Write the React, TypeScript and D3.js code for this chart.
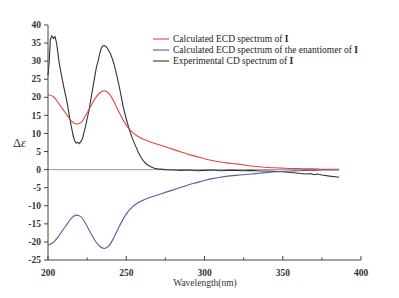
import React from "react";
import * as d3 from "d3";

const xTicks = [200, 250, 300, 350, 400];
const xMinorTicks = [225, 275, 325, 375];
const yTicks = [40, 35, 30, 25, 20, 15, 10, 5, 0, -5, -10, -15, -20, -25];

const legendLabels = [
  "Calculated ECD spectrum of ",
  "Calculated ECD spectrum of the enantiomer of ",
  "Experimental CD spectrum of ",
];

const calcWl = [200, 203, 206, 209, 212, 215, 218, 221, 224, 227, 230, 233, 236, 239, 242, 245, 248, 251, 254, 257, 260, 265, 270, 275, 280, 285, 290, 295, 300, 305, 310, 315, 320, 325, 330, 335, 340, 345, 350, 355, 360, 365, 370, 375, 380, 386];
const calcVals = [20.7, 20.3, 18.9, 17.0, 15.2, 13.4, 12.6, 13.0, 14.9, 17.3, 19.6, 21.2, 21.8, 21.0, 18.9, 16.2, 13.7, 11.7, 10.3, 9.3, 8.6, 7.7, 7.0, 6.3, 5.6, 4.9, 4.2, 3.6, 3.0, 2.5, 2.1, 1.8, 1.6, 1.3, 1.0, 0.8, 0.6, 0.5, 0.4, 0.3, 0.3, 0.2, 0.2, 0.1, 0.1, 0.1];
const enantVals = [-20.8, -20.3, -18.9, -17.0, -15.2, -13.4, -12.6, -13.0, -14.9, -17.3, -19.6, -21.2, -21.8, -21.0, -18.9, -16.2, -13.7, -11.7, -10.3, -9.3, -8.6, -7.7, -7.0, -6.3, -5.6, -4.9, -4.2, -3.6, -3.0, -2.5, -2.1, -1.8, -1.6, -1.4, -1.2, -1.0, -0.8, -0.6, -0.5, -0.4, -0.3, -0.2, -0.2, -0.1, -0.1, -0.1];

const expWl = [200, 200.8, 201.5, 202.5, 203.5, 204.5, 205.5, 207, 208, 210, 212, 214, 216, 217, 218, 219, 220, 221, 222, 224, 226, 228, 230, 231, 232, 233, 234, 235, 236, 237, 238, 240, 242, 244, 246, 248, 250, 252, 254, 256, 258, 260, 262, 264, 266, 268, 270, 275, 280, 285, 290, 295, 300, 305, 310, 315, 320, 325, 330, 335, 340, 345, 350, 355, 360, 365, 368, 370, 372, 375, 380, 386];
const expVals = [26, 30, 36, 37, 36.3, 36.8, 35, 30, 27.5, 23, 19, 14, 9.5, 8, 7.3, 7.6, 7.2, 7.8, 8.5, 12, 16, 21, 26, 28.5, 30, 32, 33.5, 34.2, 34.3, 34.1, 33.5, 32, 29.5, 26, 22, 17.5, 14, 11, 8.5, 6.5, 4.5, 3, 1.9, 1.2, 0.7, 0.4, 0.2, 0, -0.1, -0.2, -0.1, -0.3, -0.2, -0.1, -0.3, -0.2, -0.2, -0.3, -0.2, -0.4, -0.4, -0.5, -0.6, -0.8, -1.0, -1.2, -1.1, -1.4, -1.2, -1.5, -1.8, -2.1];

const RED = "#e8423f";
const BLUE = "#5b5aa6";
const BLACK = "#333333";
const AXIS = "#444444";
const FONT = "'Liberation Serif', 'Times New Roman', serif";

export default function App() {
  const W = 399, H = 298;
  const x = d3.scaleLinear().domain([200, 400]).range([48, 361]);
  const y = d3.scaleLinear().domain([-25, 40]).range([260, 25]);

  const smooth = d3.line<[number, number]>().x(d => x(d[0])).y(d => y(d[1])).curve(d3.curveMonotoneX);
  const jag = d3.line<[number, number]>().x(d => x(d[0])).y(d => y(d[1])).curve(d3.curveLinear);

  const redData = calcWl.map((w, i) => [w, calcVals[i]] as [number, number]);
  const blueData = calcWl.map((w, i) => [w, enantVals[i]] as [number, number]);
  const blackData = expWl.map((w, i) => [w, expVals[i]] as [number, number]);

  const legendColors = [RED, BLUE, BLACK];
  const legendY = [39, 50, 61];

  return (
    <svg width={W} height={H} style={{ position: "absolute", left: 0, top: 0, background: "#fff" }} fontFamily={FONT}>
      <rect x={0} y={0} width={W} height={H} fill="#fff" />
      <line x1={x(200)} x2={x(386)} y1={y(0)} y2={y(0)} stroke="#9a9a9a" strokeWidth={1} />
      <path d={jag(blackData) || ""} fill="none" stroke={BLACK} strokeWidth={1.1} />
      <path d={smooth(blueData) || ""} fill="none" stroke={BLUE} strokeWidth={1.1} />
      <path d={smooth(redData) || ""} fill="none" stroke={RED} strokeWidth={1.1} />
      <line x1={48} x2={48} y1={y(40)} y2={y(-25)} stroke={AXIS} strokeWidth={1} />
      {yTicks.map(t => (
        <g key={"y" + t}>
          <line x1={44} x2={48} y1={y(t)} y2={y(t)} stroke={AXIS} strokeWidth={1} />
          <text x={41} y={y(t)} dy="0.33em" textAnchor="end" fontSize={9.5} fontWeight="bold" fill="#333">{t}</text>
        </g>
      ))}
      <line x1={x(200)} x2={x(400)} y1={y(-25)} y2={y(-25)} stroke={AXIS} strokeWidth={1} />
      {xTicks.map(t => (
        <g key={"x" + t}>
          <line x1={x(t)} x2={x(t)} y1={y(-25)} y2={y(-25) - 4} stroke={AXIS} strokeWidth={1} />
          <text x={x(t)} y={276} textAnchor="middle" fontSize={9.5} fontWeight="bold" fill="#333">{t}</text>
        </g>
      ))}
      {xMinorTicks.map(t => (
        <line key={"m" + t} x1={x(t)} x2={x(t)} y1={y(-25)} y2={y(-25) - 2.5} stroke={AXIS} strokeWidth={1} />
      ))}
      <text x={205} y={286} textAnchor="middle" fontSize={9.5} fill="#333">Wavelength(nm)</text>
      <text x={13} y={147} fontSize={12.5} fill="#333">Δ<tspan fontStyle="italic">ε</tspan></text>
      {legendLabels.map((l, i) => (
        <g key={"l" + i}>
          <line x1={153} x2={169} y1={legendY[i]} y2={legendY[i]} stroke={legendColors[i]} strokeWidth={1.1} />
          <text x={173} y={legendY[i]} dy="0.33em" fontSize={9.5} fill="#222">
            {l}<tspan fontWeight="bold">I</tspan>
          </text>
        </g>
      ))}
    </svg>
  );
}
